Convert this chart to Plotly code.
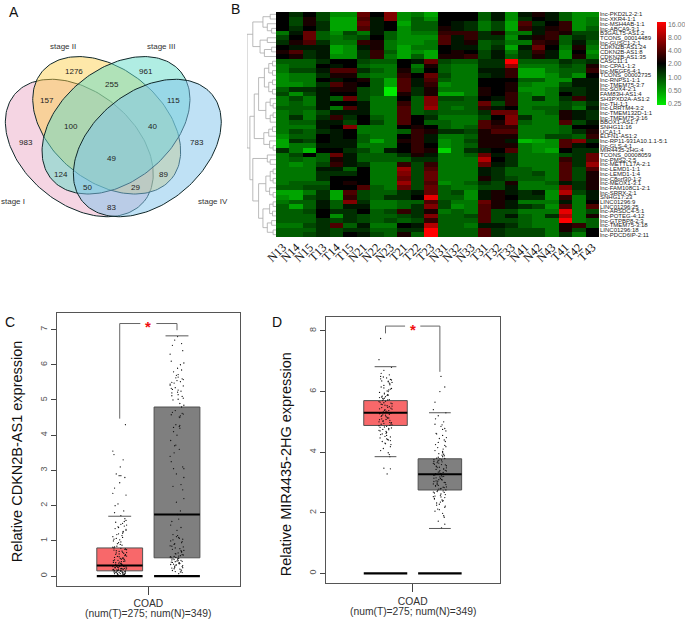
import math
import plotly.graph_objects as go

W, H = 685, 619

# ---------- Panel A: Venn ----------
venn_names = ["stage I", "stage II", "stage III", "stage IV"]
venn_counts = ["983", "1276", "961", "783", "157", "255", "115", "100", "40", "49", "124", "89", "50", "29", "83"]
venn_count_pos = [(25.7, 142.5), (74, 71.7), (146, 71.7), (197.3, 142.5), (46.7, 100.7), (111.7, 84.3), (173.7, 100.7),
                  (70.7, 126), (152.3, 126), (111.7, 158.5), (60.7, 174.7), (163, 174.7), (87.3, 187.7), (135.3, 187.7), (111.7, 207)]
venn_name_pos = [(12.5, 201.3), (63.3, 46.3), (160.7, 46.3), (213, 201.3)]
venn_centres = [(79.3, 148), (106.7, 125.3), (116, 125.3), (147.3, 148)]
venn_tilt = [39.5, 39.5, -39.5, -39.5]
venn_fill = ["rgba(236,171,199,0.5)", "rgba(253,203,65,0.45)", "rgba(97,219,199,0.5)", "rgba(127,195,235,0.5)"]

# ---------- Panel B: heat map ----------
heat_cols = ["N13","N14","N15","T13","T14","T15","N21","N22","N23","T21","T22","T23",
             "N31","N32","N33","T31","T32","T33","N41","N42","N43","T41","T42","T43"]
heat_rows = ["lnc-PKD2L2-2:1","lnc-XKR4-1:1","lnc-MSH4AB-1:1","lnc-ABCA9-3:1","B3GALT5-AS1:2","TCONS_00014489",
 "lnc-GUSC1-2:1","CDKN2B-AS1:24","CDKN2B-AS1:8","CDKN2B-AS1:35","CASC11:1","lnc-CPA1-1:2","lnc-MEGF6-4:1",
 "TCONS_00002735","lnc-RNPS1-1:1","lnc-TMEM75-3:7","lnc-SOX4-2:1","FAM83H-AS1:4","SH3PXD2A-AS1:2","lnc-TH-1:1",
 "lnc-LRRTM4-3:2","lnc-TMEM132D-1:1","lnc-TMEM75-3:16","BBOX1-AS1:7","SNHG11:16","UCA1:1","ELFN1-AS1:2",
 "lnc-RP11-931A10.1.1-5:1","lnc-GLS-4:1","MIR4435-2HG:4","TCONS_00008059","lnc-PMS2-2:5","lnc-METTL17A-2:1",
 "lnc-LEMD1-1:1","lnc-LEMD1-1:4","lnc-C8orf30-1:2","lnc-MEOX1-3:1","lnc-FAM108C1-2:1","lnc-SRRX-2:1","SNHG17:23",
 "LINC01296:9","LINC01296:25","lnc-ARSDC4-5:1","lnc-POTEG-4:12","lnc-GTPBP8-2:3","lnc-TMEM75-3:18","LINC01296:18","lnc-PDCD6IP-2:11"]
# colour level read from each cell: -10 brightest green, 0 black, +10 brightest red
heat_levels = [
 [0,-2,0,-3,-6,-6,4,0,5,-6,-5,-7,0,0,0,-4,-1,-6,-1,1,-1,-4,-6,-6],
 [0,-3,1,-3,-7,-7,3,-1,5,-6,-4,-6,0,0,0,-4,-1,-6,-2,0,-1,-4,-6,-5],
 [0,-3,1,-2,-7,-7,4,-1,0,-7,-4,-4,0,-1,-2,-5,-3,-7,3,-2,0,2,-6,-5],
 [0,-2,0,-2,-7,-7,3,-1,0,-6,-4,-4,1,-1,-2,-5,-3,-7,2,-1,1,2,-6,-4],
 [-5,-1,4,-4,-6,-3,-5,-1,-4,-6,-5,-5,2,2,2,-2,1,-5,-5,-1,2,1,-3,-3],
 [-3,0,4,-4,-5,-4,-3,0,-4,-6,-6,-6,3,-1,2,-2,-2,-6,-1,1,2,-4,-2,-3],
 [-2,1,3,-2,-5,-5,2,1,-5,-6,-6,-5,3,-1,1,-4,-3,-5,-5,2,1,-4,-1,-4],
 [0,-1,-1,-1,-7,-6,-1,1,-5,-7,-5,-5,0,-1,-1,-4,-2,-7,-1,4,0,-5,1,-5],
 [1,3,-2,-1,-7,-6,-2,2,-4,-7,-6,-7,0,1,0,-3,-1,-5,-2,2,-1,-6,0,-6],
 [0,1,-2,-1,-6,-6,-2,2,-5,-7,-4,-7,1,1,2,-3,-1,-4,-2,1,-1,-6,1,-5],
 [-4,-4,-4,-2,0,0,-3,-4,-4,0,-1,4,-3,-4,-4,-2,-2,10,-4,-4,-4,-2,-3,-2],
 [-5,-4,-4,0,-1,0,-4,-5,-5,0,-5,1,-4,-5,-5,-2,-2,6,-5,-5,-5,-3,-4,1],
 [-5,-3,-3,-1,3,3,-2,-4,-5,1,-4,0,-4,-5,-5,-1,-1,2,-7,-7,-5,-4,-4,2],
 [-6,-5,-5,-2,1,1,-4,-5,-5,2,0,4,-3,-5,-5,-2,-1,2,-7,-7,-6,-4,-6,0],
 [-6,-5,-5,0,-1,0,1,-4,-7,3,-1,3,-4,-5,-5,0,0,0,-4,-4,-6,-6,-1,-1],
 [-6,-6,-5,-2,3,1,0,-4,-7,3,-1,2,-6,-5,-5,0,0,1,-5,-6,-6,-3,-1,-1],
 [-4,-2,-2,-1,1,1,-3,-4,-10,3,-2,1,-5,-5,-5,1,0,1,-6,-6,-5,-2,-2,-1],
 [-3,-6,-3,-1,0,0,-3,-4,-10,1,-2,1,-7,-7,-5,1,0,2,-5,-6,-5,0,-2,-1],
 [-5,-3,-5,-1,-4,4,-3,-5,-5,0,-4,5,-3,-3,-4,0,-1,2,-5,-2,-5,-2,2,-1],
 [-5,-4,-5,-1,0,0,-1,-5,-5,2,-4,5,-4,-4,-4,4,-3,2,-5,-5,-5,-3,-4,-2],
 [-4,-4,-4,-1,-5,3,-1,-5,-5,3,-4,6,-4,-5,-4,2,-1,0,-5,-4,-4,-3,-5,-1],
 [-5,-4,-5,-3,-1,-1,-1,-5,-5,3,-4,-3,-4,-4,-4,-2,4,4,-5,-5,-4,1,-1,-2],
 [-5,-2,-5,-2,2,-2,0,-4,-5,3,0,-2,-5,-5,-5,-3,0,5,-2,-5,-5,1,-1,-2],
 [-5,-4,-4,-1,-1,-3,0,-3,-5,3,0,-4,-4,-5,-5,3,1,5,-4,-5,-5,3,-3,-1],
 [-5,-5,-5,-1,0,5,-5,-5,-5,0,1,0,-4,-5,-4,3,2,2,-5,-5,-5,-4,0,0],
 [-5,-3,-4,-2,-1,0,-5,-5,-5,-4,2,1,-2,-2,-3,1,3,3,-5,-5,-5,-4,-2,1],
 [-6,-4,-4,0,-1,0,-4,-5,-5,0,2,-1,-5,-5,-4,1,1,1,-5,-5,-3,-3,-4,2],
 [-7,-2,-3,0,-1,-1,-4,-7,-5,1,2,-1,-6,-5,-3,1,1,-1,-8,-7,-6,3,5,-2],
 [-7,-5,-5,-1,-1,-1,-5,-5,-5,0,2,0,-6,-5,-4,1,1,1,-5,-6,-6,3,-1,0],
 [-2,-5,-8,0,0,-2,-3,-5,-1,0,2,1,-9,-5,-2,-1,0,3,-5,-6,-7,0,-2,-2],
 [-5,-3,0,-4,4,-1,-4,-4,-4,-2,1,-1,-5,-5,-4,4,-1,-2,-5,-5,-5,-3,-2,4],
 [-5,-4,-5,-4,1,-1,-4,-4,-4,-4,-2,-2,-5,-5,-5,7,0,-2,-5,-5,-5,2,-2,4],
 [-5,-6,-5,-3,2,-1,-2,-5,-5,2,-3,2,-5,-5,-5,4,-1,-2,-5,-5,-5,3,-2,6],
 [-5,-5,-5,-1,-1,-4,0,-5,-5,6,-3,3,-5,-5,-5,-1,-2,-4,-4,-5,-5,3,-3,3],
 [-5,-5,-5,-2,-2,-2,0,-5,-5,5,-3,4,-5,-5,-5,-1,-2,-4,-4,-3,-5,3,-3,1],
 [-5,-5,-5,-2,0,0,0,-5,-5,4,-3,4,-5,-5,-5,1,-2,-3,-4,-4,-5,3,-3,1],
 [-5,-4,-4,-4,0,1,0,-5,-5,6,-3,3,-6,-5,-4,-2,-3,1,-5,-5,-4,-1,-2,1],
 [-4,-4,-3,-3,0,0,3,-4,-5,4,-3,4,-4,-5,-5,-3,-3,-1,-5,-5,-5,5,-2,1],
 [-7,-7,-5,-2,-7,3,-3,-4,-4,-2,-1,4,-4,-3,-6,-1,1,-1,-2,-1,-6,7,-3,-1],
 [-6,-7,-3,-2,-7,2,-3,-4,-2,-2,0,9,-4,-4,-6,-1,1,0,-2,-2,-6,2,-5,-1],
 [-5,-4,-4,-1,-4,5,-2,-5,-5,-4,-4,3,-3,-5,-5,4,1,-1,-5,-5,-5,-1,-5,0],
 [-4,-7,-4,-1,-4,-1,-1,-5,-5,-4,-2,5,-3,-6,-5,3,1,-1,-2,-3,-6,3,-5,3],
 [-4,-4,-3,0,-2,-2,0,-4,-3,2,-2,1,-5,-4,-5,3,-3,-3,-5,-5,-5,9,-5,-3],
 [-4,-4,-4,0,-6,-2,-3,-4,-4,-3,-2,5,-4,-4,-3,3,-3,-1,-4,-5,-2,7,-5,1],
 [-4,-4,-4,-2,-3,-2,-3,-4,-3,-4,-3,2,-4,-4,-4,3,-3,-3,-4,-5,-5,10,-5,-4],
 [-5,-5,-3,-2,3,-4,-1,-5,-5,0,-1,7,-4,-4,-5,-1,-1,-2,-4,-5,-5,1,2,-4],
 [-4,-4,-4,-2,-3,-2,-2,-4,-4,-2,-2,10,-4,-4,-4,3,-2,-3,-3,-3,-5,1,-3,0],
 [-4,-4,-3,-2,-3,0,-1,-3,-4,1,-4,10,-4,-4,-4,3,-2,-3,-3,-3,-5,-2,-5,0],
]
assert len(heat_levels) == len(heat_rows) and all(len(r) == len(heat_cols) for r in heat_levels)
colorbar_ticks = ["0.25", "0.50", "1.00", "2.00", "4.00", "8.00", "16.00"]
colorbar_levels = [-9.6, -6.4, -3.2, 0, 3.2, 6.4, 9.6]

# dendrogram: [height, child, child]; 0 is a leaf (next row)
X8 = [0.4, [0.25, [0.12, 0, 0], [0.12, 0, 0]], [0.25, [0.12, 0, 0], [0.12, 0, 0]]]
Y6 = [0.35, [0.2, 0, [0.1, 0, 0]], [0.2, [0.1, 0, 0], 0]]
Z6 = [0.42, [0.25, [0.12, 0, 0], 0], [0.22, 0, [0.1, 0, 0]]]
P7 = [0.35, [0.2, [0.1, 0, 0], [0.1, 0, 0]], [0.22, 0, [0.1, 0, 0]]]
Q8 = [0.45, [0.22, [0.1, 0, 0], [0.12, 0, 0]], [0.3, [0.15, 0, 0], [0.1, 0, 0]]]
dendro_a = [0.8, [0.45, [0.2, 0, 0], [0.3, 0, [0.15, 0, 0]]], [0.55, [0.3, 0, 0], [0.4, [0.15, 0, 0], 0]]]
dendro_b = [0.75, [0.6, X8, Y6], Z6]
dendro_c = [0.8, [0.3, 0, [0.2, 0, 0]], [0.6, P7, Q8]]
dendro_tree = [1.0, dendro_a, [0.9, dendro_b, dendro_c]]

# ---------- Panels C, D: box plots ----------
group_pos = [1, 2]
c_q1, c_med, c_q3, c_low, c_up = [0.15, 0.52], [0.30, 1.75], [0.80, 4.80], [0, 0], [1.70, 6.82]
d_q1, d_med, d_q3, d_low, d_up = [4.88, 2.75], [5.30, 3.27], [5.70, 3.78], [3.85, 1.48], [6.82, 5.30]
zero_line = [0, 0]

jitter = [0.03,-0.08,0.11,-0.02,0.07,-0.11,0.01,0.09,-0.05,-0.12,0.05,0.12,-0.07,0.02,-0.03,0.10,-0.09,0.06,-0.01,0.04,
 -0.10,0.08,-0.04,0.00,0.11,-0.06,0.03,-0.12,0.07,-0.02,0.09,-0.08,0.12,0.01,-0.05,0.05,-0.11,0.02,-0.03,0.10,
 -0.07,0.06,-0.09,0.04,-0.01,0.08,-0.10,0.00,0.11,-0.04,0.03,-0.06,0.12,-0.12,0.07,-0.02,0.09,-0.08,0.01,0.05,
 -0.05,-0.11,0.02,0.10,-0.03,0.06,-0.07,0.04,-0.09,0.08,-0.01,0.00,-0.10,0.11,-0.04,0.03,0.12,-0.06,0.07,-0.12,
 0.09,-0.02,0.01,-0.08,0.05,-0.05,0.10,0.02,-0.11,0.06,-0.03,0.04,-0.07,0.08,-0.09,0.00,-0.01,0.11,-0.10,0.03,
 -0.04,0.07,-0.06,0.12,-0.12,0.09,-0.02,0.01,-0.08,0.05,0.10,-0.05,0.02,-0.11,0.06,-0.03,0.04,-0.07,0.08,-0.09]

c_t_points = [0.02,0.03,0.04,0.05,0.05,0.06,0.07,0.08,0.08,0.09,0.10,0.10,0.11,0.12,0.12,0.13,0.14,0.15,0.15,0.16,0.17,0.18,0.18,0.19,0.20,
 0.20,0.21,0.22,0.23,0.24,0.25,0.26,0.27,0.28,0.29,0.30,0.31,0.33,0.35,0.36,0.38,0.40,0.42,0.44,0.46,0.48,0.50,0.52,0.55,0.57,0.60,0.62,
 0.65,0.67,0.70,0.72,0.75,0.77,0.80,0.82,0.85,0.88,0.92,0.95,1.00,1.03,1.07,1.10,1.15,1.20,1.22,1.27,1.30,1.35,1.40,1.42,1.45,1.50,1.53,
 1.58,1.63,1.72,1.80,1.85,2.00,2.05,2.30,2.35,2.50,2.65,2.80,2.85,2.85,2.90,3.10,3.30,3.45,3.55,4.30,
 0.04,0.06,0.07,0.09,0.11,0.13,0.14,0.16,0.17,0.19,0.21,0.22,0.24,0.25,0.27,0.28,0.30,0.32,0.34,0.37,0.39,0.41,0.43,0.45,0.47,0.49,
 0.51,0.53,0.56,0.58,0.61,0.63,0.66,0.68,0.71,0.74,0.76,0.79,0.83,0.90,0.97,1.05,1.12,1.18,1.25,1.33,1.38,1.47,1.55]
c_n_points = [0.07,0.10,0.13,0.15,0.18,0.20,0.23,0.25,0.27,0.30,0.32,0.34,0.36,0.38,0.40,0.42,0.44,0.46,0.48,0.50,0.52,0.54,0.56,0.58,0.60,
 0.63,0.66,0.70,0.73,0.76,0.80,0.83,0.86,0.90,0.95,1.00,1.03,1.07,1.10,1.15,1.18,1.30,1.38,1.45,1.55,1.62,1.75,1.85,2.10,2.20,2.45,2.55,
 2.60,2.80,2.90,3.05,3.05,3.10,3.25,3.40,3.50,3.60,3.70,3.72,3.85,4.00,4.10,4.20,4.25,4.30,4.50,4.55,4.60,4.65,4.70,4.80,4.85,4.90,5.00,
 5.05,5.10,5.15,5.20,5.25,5.30,5.35,5.40,5.45,5.50,5.55,5.60,5.65,5.70,5.80,5.90,6.00,6.10,6.30,6.40,6.60,6.70,6.80,
 0.12,0.16,0.21,0.24,0.28,0.31,0.33,0.35,0.37,0.39,0.41,0.43,0.45,0.47,0.49,0.51,0.53,0.55,0.57,0.61,0.64,0.68,0.72,0.78,0.85,0.92,
 0.98,1.05,1.12,4.22,4.28,4.52,4.58,4.62,5.02,5.12,5.22,5.28,5.33,5.42,5.48,5.52,5.58,5.63,5.72,5.85,6.05,6.55]
d_t_points = [3.28,3.45,3.47,3.85,3.92,3.98,4.05,4.12,4.18,4.25,4.30,4.35,4.40,4.42,4.47,4.50,4.55,4.58,4.62,4.65,4.70,4.72,4.75,4.78,4.80,
 4.83,4.85,4.88,4.90,4.92,4.95,4.97,5.00,5.02,5.05,5.07,5.10,5.12,5.15,5.17,5.20,5.22,5.25,5.27,5.30,5.32,5.35,5.37,5.40,5.42,5.45,5.47,
 5.50,5.52,5.55,5.57,5.60,5.62,5.65,5.67,5.70,5.72,5.75,5.78,5.80,5.83,5.85,5.88,5.90,5.95,6.00,6.05,6.10,6.15,6.20,6.25,6.30,6.32,6.35,
 6.38,6.40,6.45,6.50,6.55,6.60,6.70,6.80,7.05,7.75,
 4.28,4.38,4.44,4.52,4.60,4.68,4.74,4.82,4.87,4.93,4.98,5.03,5.08,5.13,5.18,5.23,5.28,5.33,5.38,5.43,5.48,5.53,5.58,5.63,5.68,5.73,
 5.77,5.82,5.87,5.92,5.97,6.02,6.08,6.12,6.22,6.28,6.34,6.42,6.48]
d_n_points = [1.50,1.62,1.72,1.85,1.90,1.98,2.05,2.12,2.18,2.22,2.28,2.32,2.38,2.42,2.45,2.50,2.52,2.55,2.58,2.62,2.65,2.68,2.70,2.72,2.75,
 2.78,2.80,2.83,2.85,2.88,2.90,2.93,2.95,2.98,3.00,3.03,3.05,3.08,3.10,3.13,3.15,3.18,3.20,3.23,3.25,3.28,3.30,3.33,3.35,3.38,3.40,3.43,
 3.45,3.48,3.50,3.53,3.55,3.58,3.60,3.63,3.65,3.68,3.70,3.73,3.75,3.78,3.80,3.85,3.90,3.95,4.02,4.10,4.18,4.25,4.32,4.40,4.48,4.55,4.62,
 4.70,4.78,4.85,4.92,5.00,5.10,5.20,5.30,5.40,5.65,6.00,6.15,6.50,
 2.10,2.25,2.35,2.40,2.47,2.53,2.60,2.67,2.74,2.79,2.84,2.89,2.94,2.99,3.04,3.09,3.14,3.19,3.24,3.29,3.34,3.39,3.44,3.49,3.54,3.59,
 3.64,3.69,3.74,3.79,3.83,3.88,3.93,3.98,4.05,4.15,4.22,4.35,4.45,4.60,4.75,4.90]

cohort_label = "COAD"
cohort_sizes = "(num(T)=275; num(N)=349)"

FONT = "Liberation Sans"

def xdom(a, b):
    return [a / W, b / W]
def ydom(top, bottom):
    return [1 - bottom / H, 1 - top / H]

fig = go.Figure()
hidden = dict(visible=False, fixedrange=True)

# --- A
fig.update_layout(xaxis=dict(domain=xdom(0, 240), range=[0, 240], **hidden),
                  yaxis=dict(domain=ydom(0, 260), range=[260, 0], **hidden))
VENN_A, VENN_B = 84, 56
for (cx, cy), tilt, col, name in zip(venn_centres, venn_tilt, venn_fill, venn_names):
    th = math.radians(tilt)
    ts = [2 * math.pi * i / 180 for i in range(181)]
    xs = [cx + VENN_A * math.cos(t) * math.cos(th) - VENN_B * math.sin(t) * math.sin(th) for t in ts]
    ys = [cy + VENN_A * math.cos(t) * math.sin(th) + VENN_B * math.sin(t) * math.cos(th) for t in ts]
    fig.add_trace(go.Scatter(x=xs, y=ys, mode="lines", fill="toself", fillcolor=col, name=name,
                             line=dict(color="#10282a", width=1), xaxis="x", yaxis="y", hoverinfo="skip"))

annots = []
for txt, (x, y) in zip(venn_counts, venn_count_pos):
    annots.append(dict(text=txt, x=x, y=y, xref="x", yref="y", showarrow=False,
                       font=dict(family=FONT, size=8, color="#222")))
for txt, (x, y) in zip(venn_names, venn_name_pos):
    annots.append(dict(text=txt, x=x, y=y, xref="x", yref="y", showarrow=False,
                       font=dict(family=FONT, size=8, color="#333")))

# --- B
fig.add_trace(go.Heatmap(z=heat_levels, x=list(range(24)), y=list(range(48)), xaxis="x2", yaxis="y2",
    zmin=-10, zmax=10, hoverinfo="skip",
    colorscale=[[0, "rgb(0,235,0)"], [0.5, "rgb(0,0,0)"], [1, "rgb(255,0,0)"]],
    colorbar=dict(thicknessmode="pixels", thickness=9, lenmode="pixels", len=83,
                  x=657 / W, xanchor="left", y=1 - 64 / H, yanchor="middle", ypad=0, xpad=0,
                  outlinewidth=0, ticks="", tickmode="array", tickvals=colorbar_levels, ticktext=colorbar_ticks,
                  tickfont=dict(family=FONT, size=7, color="#777"))))
fig.update_layout(
    xaxis2=dict(domain=xdom(276, 599), range=[-0.5, 23.5], anchor="y2", tickmode="array", tickvals=list(range(24)),
                ticktext=heat_cols, tickangle=-45, ticks="", showgrid=False, zeroline=False, fixedrange=True,
                tickfont=dict(family="Liberation Serif", size=12, color="#111")),
    yaxis2=dict(domain=ydom(12, 237), range=[47.5, -0.5], anchor="x2", side="right", tickmode="array",
                tickvals=list(range(48)), ticktext=heat_rows, ticks="", showgrid=False, zeroline=False, fixedrange=True,
                tickfont=dict(family=FONT, size=6, color="#222")),
    xaxis3=dict(domain=xdom(247, 276), range=[1, 0], anchor="y3", **hidden),
    yaxis3=dict(domain=ydom(12, 237), range=[47.5, -0.5], anchor="x3", **hidden),
)
seg_x, seg_y = [], []
leaf = [0]
def walk(node):
    if node == 0:
        leaf[0] += 1
        return leaf[0] - 1, 0.0
    h, a, b = node
    ya, ha = walk(a)
    yb, hb = walk(b)
    seg_x.extend([ha, h, h, hb, None])
    seg_y.extend([ya, ya, yb, yb, None])
    return (ya + yb) / 2, h
walk(dendro_tree)
fig.add_trace(go.Scatter(x=seg_x, y=seg_y, mode="lines", xaxis="x3", yaxis="y3", hoverinfo="skip",
                         line=dict(color="#aaaaaa", width=0.8)))

# --- C, D
def box_panel(xa, ya, fx, fy, yr, ytick, q1, med, q3, low, up, pts, ttl, ttl_y, sizes_y, bracket, star_y, gap):
    xn, yn = "x" + xa, "y" + ya
    fig.update_layout(**{
        "xaxis" + xa: dict(domain=xdom(*fx), range=[-0.1, 3.1], anchor="y" + ya, tickmode="array", tickvals=[1.5],
                           ticktext=[cohort_label], ticks="outside", ticklen=8, tickcolor="#444",
                           showline=True, linecolor="#555", mirror=True, showgrid=False, zeroline=False, fixedrange=True,
                           tickfont=dict(family=FONT, size=10.3, color="#333")),
        "yaxis" + ya: dict(domain=ydom(*fy), range=yr, anchor="x" + xa, tickmode="array", tickvals=ytick,
                           ticktext=[str(v) for v in ytick], tickangle=-90, ticks="outside", ticklen=5, tickcolor="#444",
                           showline=True, linecolor="#555", mirror=True, showgrid=False, zeroline=False, fixedrange=True,
                           tickfont=dict(family=FONT, size=9, color="#555")),
    })
    colors = ["#F8686A", "#7F7F7F"]
    for i, g in enumerate(group_pos):
        fig.add_trace(go.Bar(x=[g], y=[q3[i] - q1[i]], base=[q1[i]], width=[0.8], xaxis=xn, yaxis=yn, hoverinfo="skip",
                             marker=dict(color=colors[i], line=dict(color="#505050", width=1))))
    for i, g in enumerate(group_pos):
        xs = [g + jitter[(k * 7) % len(jitter)] for k in range(len(pts[i]))]
        fig.add_trace(go.Scatter(x=xs, y=pts[i], mode="markers", xaxis=xn, yaxis=yn, hoverinfo="skip",
                                 marker=dict(color="#111", size=1.3, line=dict(width=0))))
    for i, g in enumerate(group_pos):
        for v, half, w, c in [(up[i], 0.2, 0.9, "#444"), (low[i], 0.2, 0.9, "#444"),
                              (med[i], 0.4, 2.0, "#000"), (zero_line[i], 0.4, 2.2, "#000")]:
            fig.add_trace(go.Scatter(x=[g - half, g + half], y=[v, v], mode="lines", xaxis=xn, yaxis=yn,
                                     hoverinfo="skip", line=dict(color=c, width=w)))
    bt, bl, br = bracket
    fig.add_trace(go.Scatter(x=[1, 1, 1.5 - gap, None, 1.5 + gap, 2, 2], y=[bl, bt, bt, None, bt, bt, br], mode="lines",
                             xaxis=xn, yaxis=yn, hoverinfo="skip", line=dict(color="#666", width=1)))
    annots.append(dict(text="<b>*</b>", x=1.5, y=star_y, xref=xn, yref=yn, showarrow=False, yshift=-3,
                       font=dict(family=FONT, size=15, color="#f01010")))
    annots.append(dict(text=ttl, xref="paper", yref="paper", x=(fx[0] - 39.5) / W, y=1 - ttl_y / H,
                       xanchor="center", yanchor="middle", textangle=-90, showarrow=False,
                       font=dict(family=FONT, size=14.5, color="#111")))
    annots.append(dict(text=cohort_sizes, xref="paper", yref="paper", x=(fx[0] + fx[1]) / 2 / W, y=1 - sizes_y / H,
                       xanchor="center", yanchor="middle", showarrow=False,
                       font=dict(family=FONT, size=10.3, color="#333")))

box_panel("4", "4", (56.7, 240), (313.3, 586), [-0.28, 7.46], [0, 1, 2, 3, 4, 5, 6, 7],
          c_q1, c_med, c_q3, c_low, c_up, [c_t_points, c_n_points],
          "Relative CDKN2B-AS1 expression", 451, 613, (7.17, 4.47, 6.98), 7.17, 0.14)
box_panel("5", "5", (325.7, 499.7), (316.7, 583.3), [-0.33, 8.47], [0, 2, 4, 6, 8],
          d_q1, d_med, d_q3, d_low, d_up, [d_t_points, d_n_points],
          "Relative MIR4435-2HG expression", 464, 611, (8.16, 7.92, 6.65), 8.16, 0.14)

for txt, x, y in [("A", 14, 12), ("B", 235, 9), ("C", 10, 322), ("D", 277, 322)]:
    annots.append(dict(text=txt, xref="paper", yref="paper", x=x / W, y=1 - y / H, xanchor="center", yanchor="middle",
                       showarrow=False, font=dict(family=FONT, size=14, color="#111")))

fig.update_layout(width=W, height=H, margin=dict(l=0, r=0, t=0, b=0, autoexpand=False), showlegend=False, barmode="overlay",
                  paper_bgcolor="white", plot_bgcolor="white", annotations=annots,
                  font=dict(family=FONT))
fig.write_html("out.html", post_script="document.body.style.margin='0';", config={"displayModeBar": False})
